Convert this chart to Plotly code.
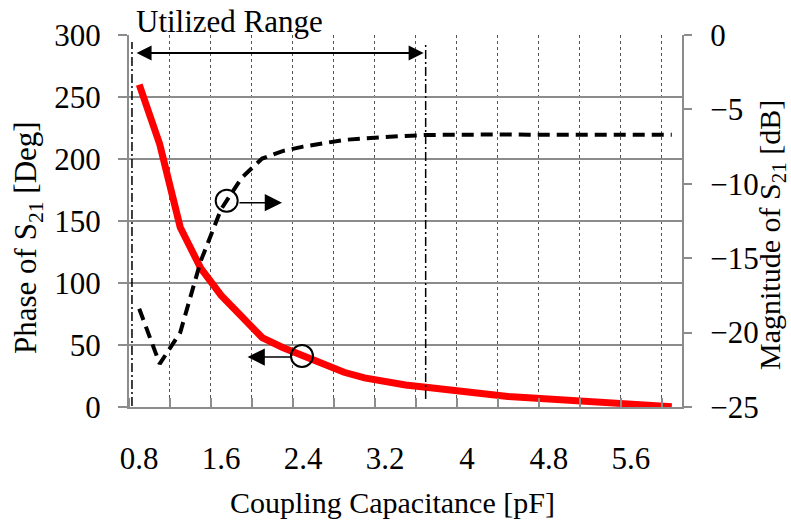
import plotly.graph_objects as go

# ---- data ----
capacitance = [0.8, 1.0, 1.2, 1.4, 1.6, 1.8, 2.0, 2.2, 2.4, 2.6, 2.8, 3.0, 3.2, 3.4,
               3.6, 3.8, 4.0, 4.2, 4.4, 4.6, 4.8, 5.0, 5.2, 5.4, 5.6, 5.8, 6.0]
phase_deg = [260, 212, 145, 112, 90, 73, 56, 48, 41, 35, 28, 23.5, 20, 17.8,
             16, 13.8, 11.8, 10, 8.5, 7.5, 6.5, 5.5, 4.4, 3.3, 2.3, 1.2, 0.3]
mag_db = [-18.4, -22.1, -20.0, -15.2, -11.7, -9.6, -8.3, -7.8, -7.5, -7.25, -7.05,
          -6.95, -6.85, -6.78, -6.72, -6.7, -6.7, -6.68, -6.68, -6.7, -6.68, -6.68,
          -6.7, -6.7, -6.7, -6.7, -6.7]
x_tickvals = [0.8, 1.6, 2.4, 3.2, 4.0, 4.8, 5.6]
x_ticktext = ["0.8", "1.6", "2.4", "3.2", "4", "4.8", "5.6"]
utilized_range = [0.729, 3.597]

FONT = "Liberation Serif"
GRAY = "#8c8c8c"

fig = go.Figure()
fig.add_trace(go.Scatter(x=capacitance, y=phase_deg, mode="lines",
                         line=dict(color="#ff0000", width=7), yaxis="y",
                         showlegend=False))
fig.add_trace(go.Scatter(x=capacitance, y=mag_db, mode="lines",
                         line=dict(color="black", width=4, dash="12px,7px"),
                         yaxis="y2", showlegend=False))

fig.update_layout(
    width=791, height=523,
    margin=dict(l=129, r=109, t=35, b=116),
    paper_bgcolor="white", plot_bgcolor="white",
    font=dict(family=FONT, size=31, color="black"),
    xaxis=dict(range=[0.7, 6.1], tickmode="array", tickvals=x_tickvals,
               ticktext=x_ticktext, showgrid=False, zeroline=False,
               ticks="outside", ticklen=23, tickcolor="rgba(0,0,0,0)",
               showline=True, linecolor=GRAY, linewidth=2,
               minor=dict(tick0=0.7, dtick=0.4, ticks="inside", ticklen=9,
                          tickcolor=GRAY, tickwidth=2, showgrid=True,
                          gridcolor="#555555", gridwidth=1, griddash="dot")),
    yaxis=dict(range=[0, 300], dtick=50, showgrid=True, gridcolor=GRAY,
               gridwidth=2, zeroline=False, ticks="outside", ticklen=9,
               tickcolor=GRAY, tickwidth=2, showline=True, linecolor=GRAY,
               linewidth=2, ticklabelstandoff=11),
    yaxis2=dict(range=[-25, 0], dtick=5, overlaying="y", side="right",
                showgrid=False, zeroline=False, ticks="outside", ticklen=8,
                tickcolor=GRAY, tickwidth=2, showline=True, linecolor=GRAY,
                linewidth=2, ticklabelstandoff=12),
)

# vertical dash-dot lines marking utilized range
for xv, ybot in zip(utilized_range, [1, 8]):
    fig.add_shape(type="line", xref="x", yref="paper", x0=xv, x1=xv,
                  y0=ybot / 372, y1=(407 - 42) / 372,
                  line=dict(color="black", width=1.5, dash="9px,3px,2px,3px"))

# double-headed arrow
fig.add_annotation(x=utilized_range[1] - 0.02, y=285.5, ax=utilized_range[0] + 0.03, ay=285.5,
                   xref="x", yref="y", axref="x", ayref="y", text="",
                   showarrow=True, arrowhead=2, startarrowhead=2,
                   arrowside="end+start", arrowwidth=2, arrowsize=1.5,
                   startarrowsize=1.5, arrowcolor="black", standoff=0, startstandoff=0)

fig.add_annotation(text="Utilized Range", xref="paper", yref="paper",
                   x=(134 - 129) / 553, y=(407 - 21) / 372, xanchor="left",
                   yanchor="middle", showarrow=False, font=dict(size=31))

# circle markers with arrows
fig.add_shape(type="circle", xref="x", yref="y2", xsizemode="pixel",
              ysizemode="pixel", xanchor=1.654, yanchor=-11.14,
              x0=-11, x1=11, y0=-11, y1=11, line=dict(color="black", width=2))
fig.add_annotation(x=2.194, y=-11.27, ax=1.764, ay=-11.27, xref="x", yref="y2",
                   axref="x", ayref="y2", text="", showarrow=True, arrowhead=2,
                   arrowwidth=1.5, arrowsize=2.3, arrowcolor="black", standoff=0)
fig.add_shape(type="circle", xref="x", yref="y", xsizemode="pixel",
              ysizemode="pixel", xanchor=2.389, yanchor=41.1,
              x0=-11, x1=11, y0=-11, y1=11, line=dict(color="black", width=2))
fig.add_annotation(x=1.858, y=40.3, ax=2.299, ay=40.3, xref="x", yref="y",
                   axref="x", ayref="y", text="", showarrow=True, arrowhead=2,
                   arrowwidth=1.5, arrowsize=2.3, arrowcolor="black", standoff=0)

# axis titles
fig.add_annotation(text="Phase of S<sub>21</sub> [Deg]", xref="paper", yref="paper",
                   x=(28 - 129) / 553, y=(407 - 237) / 372, textangle=-90,
                   xanchor="center", yanchor="middle", showarrow=False,
                   font=dict(size=31))
fig.add_annotation(text="Magnitude of S<sub>21</sub> [dB]", xref="paper", yref="paper",
                   x=(772 - 129) / 553, y=(407 - 235) / 372, textangle=-90,
                   xanchor="center", yanchor="middle", showarrow=False,
                   font=dict(size=30))
fig.add_annotation(text="Coupling Capacitance [pF]", xref="paper", yref="paper",
                   x=(392.5 - 129) / 553, y=(407 - 502) / 372,
                   xanchor="center", yanchor="middle", showarrow=False,
                   font=dict(size=30))

fig.write_html("out.html")
